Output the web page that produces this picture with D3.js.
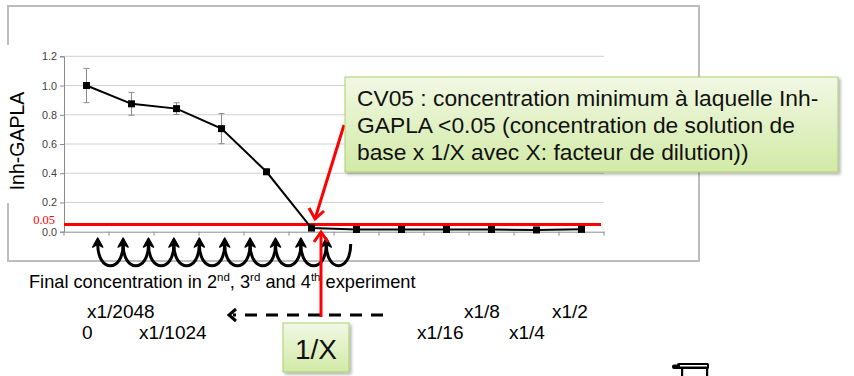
<!DOCTYPE html>
<html>
<head>
<meta charset="utf-8">
<script src="https://cdn.jsdelivr.net/npm/d3@7"></script>
<style>
  body { margin: 0; background: #fff; }
  text { font-family: "Liberation Sans", Arial, sans-serif; }
</style>
</head>
<body>
<svg id="chart" width="854" height="376"></svg>
<script>
/*=====================================================================
 data
======================================================================*/
// dilution steps, one per point
var categories = ["0", "x1/2048", "x1/1024", "x1/512", "x1/256", "x1/128",
                  "x1/64", "x1/32", "x1/16", "x1/8", "x1/4", "x1/2"];
var inhValues = [1.0, 0.875, 0.842, 0.705, 0.41, 0.025,
                 0.015, 0.015, 0.015, 0.015, 0.012, 0.016];
var inhErrors = [0.117, 0.078, 0.04, 0.103, 0.005, 0,
                 0, 0, 0, 0, 0, 0];
var yTicks = [0, 0.2, 0.4, 0.6, 0.8, 1.0, 1.2];
var threshold = 0.05;

// text under the chart
var topLabels = ["x1/2048", "x1/8", "x1/2"];
var bottomLabels = ["0", "x1/1024", "x1/16", "x1/4"];
var calloutLines = [
  "CV05 : concentration minimum à laquelle Inh-",
  "GAPLA <0.05 (concentration de solution de",
  "base x 1/X avec X: facteur de dilution))"
];

/*=====================================================================
 setup
======================================================================*/
var svg = d3.select("#chart");

var defs = svg.append("defs");
var grad = defs.append("linearGradient")
    .attr("id", "greenGrad")
    .attr("x1", 0).attr("y1", 0).attr("x2", 0).attr("y2", 1);
grad.append("stop").attr("offset", "0%").attr("stop-color", "#f1f8e4");
grad.append("stop").attr("offset", "100%").attr("stop-color", "#d2eaa6");

var shadow = defs.append("filter").attr("id", "shadow")
    .attr("x", "-10%").attr("y", "-10%").attr("width", "130%").attr("height", "140%");
shadow.append("feDropShadow")
    .attr("dx", 2).attr("dy", 2).attr("stdDeviation", 1.5)
    .attr("flood-color", "#000").attr("flood-opacity", 0.3);

// outer chart frame
svg.append("rect")
    .attr("x", 8).attr("y", 6)
    .attr("width", 691).attr("height", 255)
    .attr("fill", "#fff")
    .attr("stroke", "#bdbdbd")
    .attr("stroke-width", 2);

var x = d3.scaleBand()
    .domain(categories)
    .range([64, 604]);

var y = d3.scaleLinear()
    .domain([0, 1.2])
    .range([231.7, 56.3]);

/*=====================================================================
 grid + axes
======================================================================*/
svg.append("g")
    .selectAll("line")
    .data(yTicks.slice(1))
    .join("line")
    .attr("x1", 64).attr("x2", 604)
    .attr("y1", function (d) { return y(d); })
    .attr("y2", function (d) { return y(d); })
    .attr("stroke", "#d0d0d0")
    .attr("stroke-width", 1);

var yAxis = svg.append("g")
    .attr("transform", "translate(64,0)")
    .call(d3.axisLeft(y).tickValues(yTicks).tickFormat(d3.format(".1f")).tickSize(4).tickPadding(3));
yAxis.select(".domain").attr("stroke", "#8c8c8c");
yAxis.selectAll(".tick line").attr("stroke", "#8c8c8c");
yAxis.selectAll(".tick text")
    .attr("fill", "#404040")
    .style("font-size", "10.8px");

var xAxis = svg.append("g")
    .attr("transform", "translate(0," + y(0) + ")")
    .call(d3.axisBottom(x).tickValues([]).tickSizeOuter(0));
xAxis.select(".domain").attr("stroke", "#8c8c8c");
// tick marks at category boundaries
xAxis.selectAll(".bound")
    .data(categories.concat(["end"]))
    .join("line")
    .attr("class", "bound")
    .attr("x1", function (d, i) { return x.range()[0] + i * x.step(); })
    .attr("x2", function (d, i) { return x.range()[0] + i * x.step(); })
    .attr("y1", 0).attr("y2", 4)
    .attr("stroke", "#8c8c8c");

/*=====================================================================
 threshold line
======================================================================*/
svg.append("line")
    .attr("x1", 64).attr("x2", 601)
    .attr("y1", y(threshold)).attr("y2", y(threshold))
    .attr("stroke", "#ff0000")
    .attr("stroke-width", 3);

svg.append("text")
    .attr("x", 55).attr("y", y(threshold))
    .attr("text-anchor", "end")
    .style("font-family", "'Liberation Serif', 'Times New Roman', serif")
    .style("font-size", "12.5px")
    .attr("fill", "#ff0000")
    .text(threshold.toFixed(2));

/*=====================================================================
 series: error bars, line, markers
======================================================================*/
var cx = function (d, i) { return x(categories[i]) + x.bandwidth() / 2; };

var err = svg.append("g")
    .selectAll("g")
    .data(inhValues)
    .join("g")
    .filter(function (d, i) { return inhErrors[i] > 0.01; });
err.append("line")
    .attr("x1", function (d) { return cx(d, inhValues.indexOf(d)); })
    .attr("x2", function (d) { return cx(d, inhValues.indexOf(d)); })
    .attr("y1", function (d) { return y(d + inhErrors[inhValues.indexOf(d)]); })
    .attr("y2", function (d) { return y(d - inhErrors[inhValues.indexOf(d)]); })
    .attr("stroke", "#8a8a8a");
[1, -1].forEach(function (s) {
    err.append("line")
        .attr("x1", function (d) { return cx(d, inhValues.indexOf(d)) - 3; })
        .attr("x2", function (d) { return cx(d, inhValues.indexOf(d)) + 3; })
        .attr("y1", function (d) { return y(d + s * inhErrors[inhValues.indexOf(d)]); })
        .attr("y2", function (d) { return y(d + s * inhErrors[inhValues.indexOf(d)]); })
        .attr("stroke", "#8a8a8a");
});

svg.append("path")
    .datum(inhValues)
    .attr("fill", "none")
    .attr("stroke", "#000")
    .attr("stroke-width", 2)
    .attr("d", d3.line().x(cx).y(function (d) { return y(d); }));

svg.append("g")
    .selectAll("rect")
    .data(inhValues)
    .join("rect")
    .attr("x", function (d, i) { return cx(d, i) - 3.5; })
    .attr("y", function (d) { return y(d) - 3.5; })
    .attr("width", 7).attr("height", 7)
    .attr("fill", "#000");

/*=====================================================================
 y axis title (white box covers the frame)
======================================================================*/
svg.append("rect")
    .attr("x", 0).attr("y", 45)
    .attr("width", 30).attr("height", 158)
    .attr("fill", "#fff");
svg.append("text")
    .attr("transform", "translate(24,141) rotate(-90)")
    .attr("text-anchor", "middle")
    .style("font-size", "19.5px")
    .attr("fill", "#000")
    .text("Inh-GAPLA");

/*=====================================================================
 loop arrows under the axis
======================================================================*/
var loopStart = 97.7, loopStep = 25.4, loopCount = 10;
var loops = svg.append("g");
d3.range(loopCount).forEach(function (k) {
    var x1 = loopStart + k * loopStep;
    var x2 = x1 + loopStep - (k == loopCount - 1 ? 1 : 0);
    loops.append("path")
        .attr("d", "M" + x2 + ",244 C" + x2 + ",273 " + x1 + ",273 " + x1 + ",244")
        .attr("fill", "none")
        .attr("stroke", "#000")
        .attr("stroke-width", 3);
    loops.append("path")
        .attr("d", "M" + x1 + ",238 L" + (x1 - 5) + ",247 L" + x1 + ",244 L" + (x1 + 5) + ",247 Z")
        .attr("fill", "#000")
        .attr("stroke", "#000")
        .attr("stroke-width", 1.5)
        .attr("stroke-linejoin", "round");
});

/*=====================================================================
 text under the chart
======================================================================*/
var fc = svg.append("text")
    .attr("x", 29).attr("y", 288)
    .style("font-size", "18.2px")
    .attr("fill", "#000");
fc.append("tspan").text("Final concentration in 2");
fc.append("tspan").attr("dy", -7).style("font-size", "11.5px").text("nd");
fc.append("tspan").attr("dy", 7).text(", 3");
fc.append("tspan").attr("dy", -7).style("font-size", "11.5px").text("rd");
fc.append("tspan").attr("dy", 7).text(" and 4");
fc.append("tspan").attr("dy", -7).style("font-size", "11.5px").text("th");
fc.append("tspan").attr("dy", 7).text(" experiment");

var topX = [87, 464, 552];
var botX = [82, 139, 417, 509];
svg.append("g").selectAll("text")
    .data(topLabels)
    .join("text")
    .attr("x", function (d, i) { return topX[i]; })
    .attr("y", 318)
    .style("font-size", "19px")
    .text(function (d) { return d; });
svg.append("g").selectAll("text")
    .data(bottomLabels)
    .join("text")
    .attr("x", function (d, i) { return botX[i]; })
    .attr("y", 339)
    .style("font-size", "19px")
    .text(function (d) { return d; });

// dashed arrow pointing left
svg.append("line")
    .attr("x1", 383).attr("x2", 233)
    .attr("y1", 315).attr("y2", 315)
    .attr("stroke", "#000")
    .attr("stroke-width", 3)
    .attr("stroke-dasharray", "12,9");
svg.append("path")
    .attr("d", "M236,309 L229,315 L236,321")
    .attr("fill", "none")
    .attr("stroke", "#000")
    .attr("stroke-width", 3);

/*=====================================================================
 red arrows
======================================================================*/
svg.append("line")
    .attr("x1", 321).attr("x2", 321)
    .attr("y1", 317).attr("y2", 232)
    .attr("stroke", "#ff0000")
    .attr("stroke-width", 3);
svg.append("path")
    .attr("d", "M314,242 L321,232 L328,242")
    .attr("fill", "none")
    .attr("stroke", "#ff0000")
    .attr("stroke-width", 3);

svg.append("line")
    .attr("x1", 344).attr("x2", 315)
    .attr("y1", 125).attr("y2", 219)
    .attr("stroke", "#ff0000")
    .attr("stroke-width", 3);
svg.append("path")
    .attr("d", "M309,208 L315,219 L324,211")
    .attr("fill", "none")
    .attr("stroke", "#ff0000")
    .attr("stroke-width", 3);

/*=====================================================================
 callout boxes
======================================================================*/
svg.append("rect")
    .attr("x", 345).attr("y", 77)
    .attr("width", 493).attr("height", 95)
    .attr("fill", "url(#greenGrad)")
    .attr("stroke", "#a9cf72")
    .attr("stroke-width", 1)
    .attr("filter", "url(#shadow)");
svg.append("g").selectAll("text")
    .data(calloutLines)
    .join("text")
    .attr("x", 357)
    .attr("y", function (d, i) { return 106 + i * 27.2; })
    .style("font-size", "22.8px")
    .attr("fill", "#111")
    .text(function (d) { return d; });

svg.append("rect")
    .attr("x", 283).attr("y", 323)
    .attr("width", 66).attr("height", 49)
    .attr("fill", "url(#greenGrad)")
    .attr("stroke", "#a9cf72")
    .attr("stroke-width", 1)
    .attr("filter", "url(#shadow)");
svg.append("text")
    .attr("x", 316).attr("y", 359)
    .attr("text-anchor", "middle")
    .style("font-size", "28px")
    .attr("fill", "#111")
    .text("1/X");

/*=====================================================================
 small icon bottom right
======================================================================*/
var icon = svg.append("g");
icon.append("rect").attr("x", 677).attr("y", 363).attr("width", 32).attr("height", 6).attr("rx", 1.5).attr("fill", "#000");
icon.append("rect").attr("x", 680).attr("y", 365).attr("width", 27).attr("height", 1.5).attr("fill", "#fff");
icon.append("rect").attr("x", 672).attr("y", 364.5).attr("width", 8).attr("height", 4.5).attr("rx", 2).attr("fill", "#000");
icon.append("rect").attr("x", 681).attr("y", 369).attr("width", 2.2).attr("height", 7).attr("fill", "#000");
icon.append("rect").attr("x", 706).attr("y", 369).attr("width", 2.2).attr("height", 7).attr("fill", "#000");
</script>
</body>
</html>
